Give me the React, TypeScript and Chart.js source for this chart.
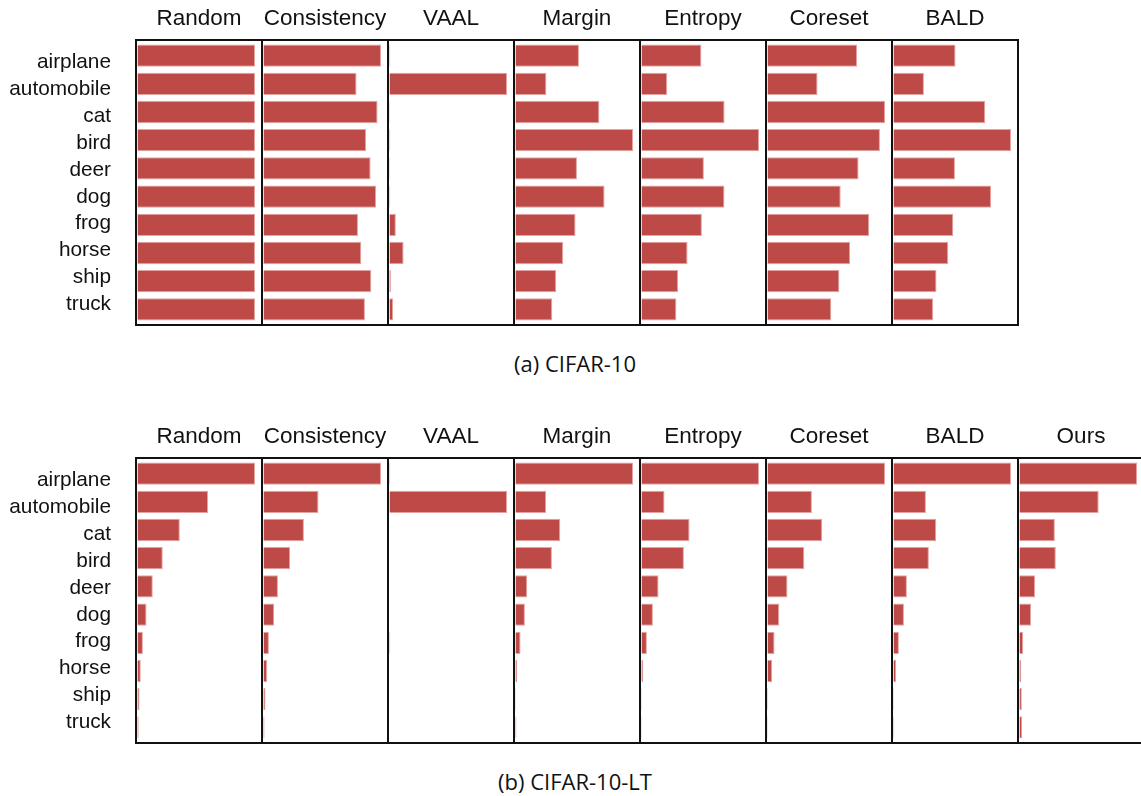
import React, { useEffect, useRef } from "react";
import { Chart, registerables } from "chart.js";

Chart.register(...registerables);

// ---------- data ----------
const categories = ["airplane", "automobile", "cat", "bird", "deer", "dog", "frog", "horse", "ship", "truck"];
const methodsA = ["Random", "Consistency", "VAAL", "Margin", "Entropy", "Coreset", "BALD"];
const methodsB = ["Random", "Consistency", "VAAL", "Margin", "Entropy", "Coreset", "BALD", "Ours"];

// (a) CIFAR-10: selected samples per class, relative to the largest class of each method
const c10Random = [1, 1, 1, 1, 1, 1, 1, 1, 1, 1];
const c10Consistency = [0.995, 0.788, 0.966, 0.868, 0.907, 0.953, 0.8, 0.828, 0.913, 0.859];
const c10VAAL = [0.006, 1, 0.004, 0.006, 0.004, 0.006, 0.054, 0.12, 0.012, 0.031];
const c10Margin = [0.54, 0.263, 0.714, 1, 0.523, 0.758, 0.511, 0.406, 0.347, 0.313];
const c10Entropy = [0.51, 0.219, 0.707, 1, 0.531, 0.706, 0.514, 0.392, 0.312, 0.297];
const c10Coreset = [0.763, 0.426, 1, 0.957, 0.775, 0.623, 0.866, 0.703, 0.612, 0.543];
const c10BALD = [0.528, 0.259, 0.781, 1, 0.523, 0.83, 0.509, 0.466, 0.366, 0.338];

// (b) CIFAR-10-LT
const ltRandom = [1, 0.6, 0.36, 0.215, 0.13, 0.077, 0.046, 0.028, 0.017, 0.01];
const ltConsistency = [1, 0.468, 0.344, 0.227, 0.123, 0.091, 0.046, 0.032, 0.017, 0.009];
const ltVAAL = [0.006, 1, 0, 0, 0, 0, 0.006, 0, 0, 0];
const ltMargin = [1, 0.261, 0.381, 0.31, 0.1, 0.08, 0.043, 0.015, 0.004, 0.008];
const ltEntropy = [1, 0.196, 0.409, 0.361, 0.145, 0.097, 0.046, 0.015, 0.004, 0.004];
const ltCoreset = [1, 0.378, 0.466, 0.313, 0.17, 0.1, 0.06, 0.04, 0.006, 0.004];
const ltBALD = [1, 0.276, 0.364, 0.301, 0.114, 0.089, 0.046, 0.023, 0.004, 0.006];
const ltOurs = [1, 0.674, 0.301, 0.309, 0.132, 0.098, 0.032, 0.015, 0.02, 0.023];

const seriesA = [c10Random, c10Consistency, c10VAAL, c10Margin, c10Entropy, c10Coreset, c10BALD];
const seriesB = [ltRandom, ltConsistency, ltVAAL, ltMargin, ltEntropy, ltCoreset, ltBALD, ltOurs];

const captionA = "(a) CIFAR-10";
const captionB = "(b) CIFAR-10-LT";

// ---------- layout ----------
const PANEL_LEFT = 136;
const PANEL_W = 125.95;
const CANVAS_H = 345;
const LABEL_W = 136;
const SIDE_PAD = 3;
// the class-name column uses a slightly tighter row pitch than the bars
const LABEL_AREA_TOP = 49.1;
const LABEL_AREA_H = 268.6;

const BAR_COLOR = "#BD4A47";
const BAR_EDGE = "#E4A3A1";
const INK = "#111111";
const SANS = "'Liberation Sans', Arial, sans-serif";

const framePlugin = {
  id: "frameBox",
  afterDatasetsDraw(chart: any) {
    const { ctx, chartArea: a } = chart;
    ctx.save();
    ctx.strokeStyle = INK;
    ctx.lineWidth = 2;
    ctx.strokeRect(a.left, a.top - 1.5, a.right - a.left, a.bottom - a.top + 3);
    ctx.restore();
  },
};

function LabelColumn({ top }: { top: number }) {
  const ref = useRef<HTMLCanvasElement | null>(null);
  useEffect(() => {
    if (!ref.current) return;
    const chart = new Chart(ref.current, {
      type: "bar",
      data: { labels: categories, datasets: [{ data: [] as number[] }] },
      options: {
        indexAxis: "y",
        responsive: false,
        animation: false,
        events: [],
        layout: {
          padding: { left: 0, right: 0, top: LABEL_AREA_TOP, bottom: CANVAS_H - LABEL_AREA_TOP - LABEL_AREA_H },
        },
        plugins: { legend: { display: false }, tooltip: { enabled: false }, title: { display: false } },
        scales: {
          x: { type: "linear", display: false, min: 0, max: 1 },
          y: {
            type: "category",
            display: true,
            position: "left",
            offset: true,
            grid: { display: false, drawTicks: false },
            border: { display: false },
            ticks: {
              color: INK,
              padding: 25,
              autoSkip: false,
              font: { family: SANS, size: 20.8 },
            },
            afterFit: (scale: any) => {
              scale.width = LABEL_W;
              scale.paddingTop = 0;
              scale.paddingBottom = 0;
            },
          },
        },
      } as any,
    });
    return () => chart.destroy();
  }, [top]);
  return (
    <canvas
      ref={ref}
      width={LABEL_W + 4}
      height={CANVAS_H}
      style={{ position: "absolute", left: 0, top, width: LABEL_W + 4, height: CANVAS_H }}
    />
  );
}

type SubProps = {
  title: string;
  values: number[];
  left: number;
  top: number;
  width: number;
};

function SubChart({ title, values, left, top, width }: SubProps) {
  const ref = useRef<HTMLCanvasElement | null>(null);
  useEffect(() => {
    if (!ref.current) return;
    const maxV = Math.max(...values);
    const chart = new Chart(ref.current, {
      type: "bar",
      data: {
        labels: categories,
        datasets: [
          {
            data: values,
            backgroundColor: BAR_COLOR,
            borderColor: BAR_EDGE,
            borderWidth: 1,
            barPercentage: 0.79,
            categoryPercentage: 1,
          },
        ],
      },
      options: {
        indexAxis: "y",
        responsive: false,
        animation: false,
        events: [],
        layout: { padding: { left: SIDE_PAD, right: SIDE_PAD, top: 0, bottom: 21.5 } },
        plugins: {
          legend: { display: false },
          tooltip: { enabled: false },
          title: {
            display: true,
            text: title,
            fullSize: false,
            color: INK,
            font: { family: SANS, size: 22.5, weight: "normal", lineHeight: 1.2 },
            padding: { top: 4.8, bottom: 9.7 },
          },
        },
        scales: {
          x: {
            type: "linear",
            display: false,
            min: -0.01277 * maxV,
            max: 1.0596 * maxV,
            grid: { display: false },
          },
          y: {
            type: "category",
            display: false,
            offset: true,
            grid: { display: false },
          },
        },
      } as any,
      plugins: [framePlugin],
    });
    return () => chart.destroy();
  }, [title, values, width]);

  return (
    <canvas
      ref={ref}
      width={width}
      height={CANVAS_H}
      style={{ position: "absolute", left, top, width, height: CANVAS_H }}
    />
  );
}

function Panel({ methods, series, top }: { methods: string[]; series: number[][]; top: number }) {
  return (
    <>
      <LabelColumn top={top} />
      {methods.map((m, i) => {
        const L = Math.round(PANEL_LEFT + i * PANEL_W);
        const R = Math.round(PANEL_LEFT + (i + 1) * PANEL_W);
        return (
          <SubChart
            key={m}
            title={m}
            values={series[i]}
            left={L - SIDE_PAD}
            top={top}
            width={R - L + 2 * SIDE_PAD}
          />
        );
      })}
    </>
  );
}

const captionStyle: React.CSSProperties = {
  position: "absolute",
  left: 275,
  width: 600,
  textAlign: "center",
  fontFamily: "'Open Sans', sans-serif",
  fontSize: 22,
  lineHeight: "30px",
  color: INK,
  whiteSpace: "nowrap",
};

export default function App() {
  return (
    <div
      style={{
        position: "absolute",
        left: 0,
        top: 0,
        width: 1141,
        height: 796,
        overflow: "hidden",
        background: "#ffffff",
      }}
    >
      <Panel methods={methodsA} series={seriesA} top={0} />
      <div style={{ ...captionStyle, top: 347.5 }}>{captionA}</div>
      <Panel methods={methodsB} series={seriesB} top={418} />
      <div style={{ ...captionStyle, top: 765.5 }}>{captionB}</div>
    </div>
  );
}
